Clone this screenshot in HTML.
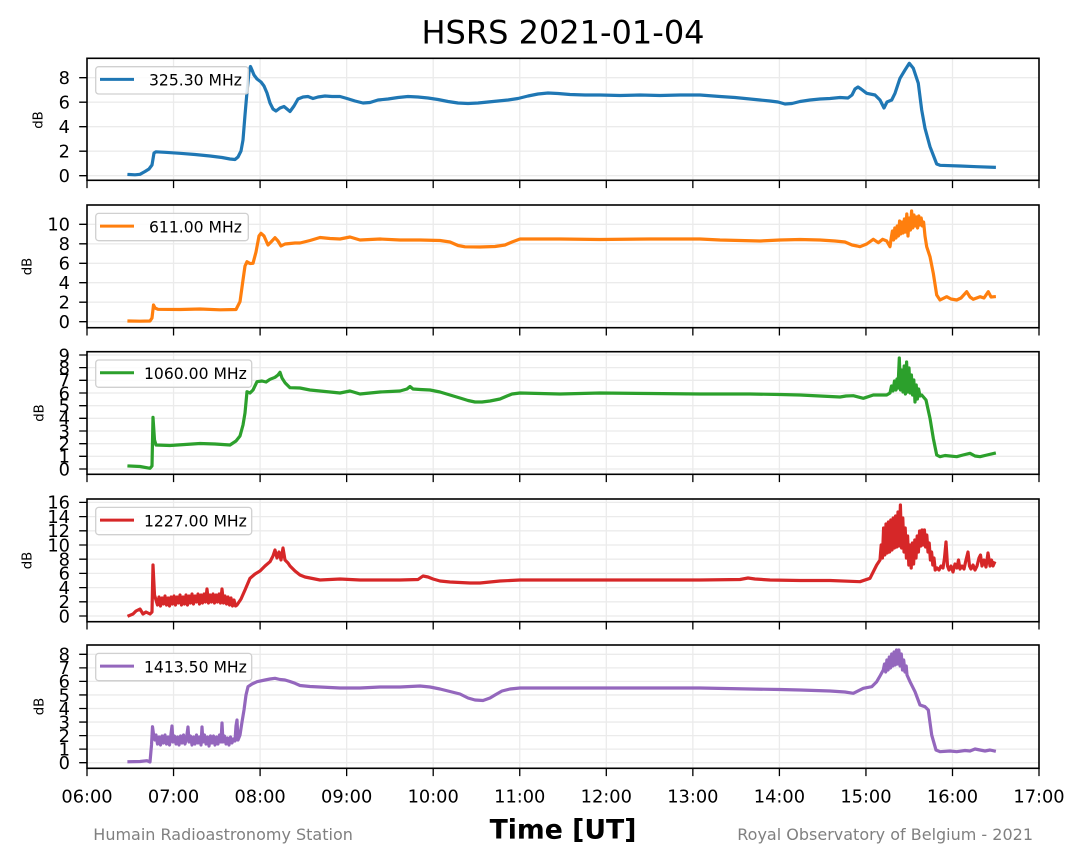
<!DOCTYPE html>
<html><head><meta charset="utf-8"><style>
html,body{margin:0;padding:0;background:#fff;}
svg{display:block;}
text{font-family:"DejaVu Sans","Liberation Sans",sans-serif;}
</style></head><body>
<svg width="1085" height="862" viewBox="0 0 1085 862" xmlns="http://www.w3.org/2000/svg">
<rect width="1085" height="862" fill="#fff"/>
<text x="563" y="43.3" font-size="32" text-anchor="middle" fill="#000">HSRS 2021-01-04</text>

<g stroke="#ebebeb" stroke-width="1.3" fill="none">
<path d="M173.55 58.3V180.3M260.1 58.3V180.3M346.65 58.3V180.3M433.2 58.3V180.3M519.75 58.3V180.3M606.3 58.3V180.3M692.85 58.3V180.3M779.4 58.3V180.3M865.95 58.3V180.3M952.5 58.3V180.3"/>
<path d="M173.55 205V327.7M260.1 205V327.7M346.65 205V327.7M433.2 205V327.7M519.75 205V327.7M606.3 205V327.7M692.85 205V327.7M779.4 205V327.7M865.95 205V327.7M952.5 205V327.7"/>
<path d="M173.55 351.7V474.3M260.1 351.7V474.3M346.65 351.7V474.3M433.2 351.7V474.3M519.75 351.7V474.3M606.3 351.7V474.3M692.85 351.7V474.3M779.4 351.7V474.3M865.95 351.7V474.3M952.5 351.7V474.3"/>
<path d="M173.55 499V621.7M260.1 499V621.7M346.65 499V621.7M433.2 499V621.7M519.75 499V621.7M606.3 499V621.7M692.85 499V621.7M779.4 499V621.7M865.95 499V621.7M952.5 499V621.7"/>
<path d="M173.55 645V768.3M260.1 645V768.3M346.65 645V768.3M433.2 645V768.3M519.75 645V768.3M606.3 645V768.3M692.85 645V768.3M779.4 645V768.3M865.95 645V768.3M952.5 645V768.3"/>
<path d="M87 175.7H1039M87 151.2H1039M87 126.7H1039M87 102.2H1039M87 77.7H1039"/>
<path d="M87 321.7H1039M87 302.2H1039M87 282.7H1039M87 263.3H1039M87 243.8H1039M87 224.3H1039"/>
<path d="M87 469H1039M87 456.3H1039M87 443.7H1039M87 431H1039M87 418.3H1039M87 405.7H1039M87 393H1039M87 380.3H1039M87 367.6H1039M87 355H1039"/>
<path d="M87 616H1039M87 601.8H1039M87 587.6H1039M87 573.4H1039M87 559.2H1039M87 545H1039M87 530.8H1039M87 516.6H1039M87 502.4H1039"/>
<path d="M87 762.7H1039M87 749.15H1039M87 735.6H1039M87 722.05H1039M87 708.5H1039M87 694.95H1039M87 681.4H1039M87 667.85H1039M87 654.3H1039"/>
</g>

<g fill="none" stroke-width="3.2" stroke-linejoin="round" stroke-linecap="square">
<polyline stroke="#1f77b4" points="129,174.5 135,174.8 140,174.3 145,171.5 149,169 152,165 154,153 156,151.8 165,152.3 180,153.3 195,154.5 210,156 222,157.5 230,159 235,159.5 238,157 241,151 243,140 245,115 247,92 249,72 250.5,66.5 252,70 254,75 257,79 261,82 264,86 267,93 270,103 273,109 276,111 280,108 284,106.5 287,109 290,111.5 294,106 298,99 303,97 308,96.5 313,98.5 318,97 325,96 332,96.5 340,96.5 347,98.5 355,101 363,103 370,102.5 378,100 388,99 398,97.5 408,96.5 418,97 428,98 438,99.5 448,101.5 458,103 468,103.5 478,103 488,102 498,101 508,100 518,98.5 528,96 538,94 548,93 558,93.5 570,94.5 585,95 600,95 620,95.5 640,95 660,95.5 680,95 700,95 720,96.5 735,97.5 750,99 760,100 770,101 778,102 785,104 792,103.5 800,101.5 810,100 820,99 830,98.5 840,97.5 848,98 852,95 855,89 858,87 861,89 866.7,93.3 875,95 880,100 884,108 887,102 891.7,100 895,93.3 900,78.3 905,70 909.3,63.3 913.3,68.3 918.3,83.3 921.7,110 925,128.3 930,146.7 936.7,164 940,165.3 960,166 976.7,166.7 994.3,167.3"/>
<polyline stroke="#ff7f0e" points="129,321 140,321.2 150,321 152,318 153.5,305 155,308 158,309.3 180,309.5 200,309 220,309.8 236,309.5 240,301.7 243,280 245,266 247,261.7 250,263.5 253,263.3 256,252 259,236 261,233.3 264,236 268,245 271,242 275,237.7 278,241 281,246 285,244 290,243.5 295,243 300,243 310,240.5 320,237.5 330,238.5 340,239 350,237 360,240 370,239.5 380,239 400,240 420,240 440,240.5 450,242 458,245.5 465,246.8 480,247 495,246.5 505,245 512,242 520,239 540,239 560,239 600,239.5 650,239 700,239 720,240 740,240.5 760,241 780,240 800,239.5 820,240 835,241 845,242 852,245 857,246 860,246.7 866.7,244 873.3,239.3 878.3,242.7 882.7,239.3 886.7,241 890,246.7 891.2,238 892.4,231 893.6,240 894.8,228 896,238 897.2,226 898.4,236 899.6,221 900.8,234 902,222 903.2,233 904.4,219 905.6,232 906.8,214 908,236 909.2,218 910.4,230 911.6,211 912.8,228 914,215 915.2,226 916.4,217 917.6,228 918.8,216 920,225 921.2,218 922.4,226 923.6,222 925,236 926.7,246.7 930,256.7 933.3,273.3 936.7,295 940,300 946.7,296.7 951,299 956.7,300 961,298 966.7,291.7 970,297 973.3,299.3 980,296.7 984,298 988.3,291.7 991,297 994.3,296.7"/>
<polyline stroke="#2ca02c" points="129,466 140,466.5 150,468.3 152,466 153,417.3 154.5,440 156,445 170,445.5 185,444.5 200,443.5 215,444 230,445 236,441 240,436 243,425 245,413 247,391.7 250,393 253,390 257,381.7 262,381 266,382 270,379.3 275,377.3 278,375 280,372.3 282,378 285,382.7 290,387.7 300,388 310,390 320,391 330,392 340,393 350,391 360,394 370,393 380,392 390,391.5 400,391 407,389 410,386.5 413,389 420,389.5 430,390 440,392 450,395 460,398 468,400.5 475,402 482,402 490,401 500,399 507,396 512,394 520,393 540,393.5 560,394 580,393.5 600,393 650,393.5 700,394 750,394 780,394.5 800,395 820,396 840,397 846,396 853.3,395.7 863.3,398.3 873.3,395 886.7,395 890,393 891.5,386 893,391 894.5,381 896,390 897,379 898,388 899.3,358 900.5,390 901.7,370 903,392 904.2,366 905.4,394 906.6,362 907.8,392 909,368 910.2,393 911.4,375 912.6,395 913.8,380 915,402 916.2,385 917.4,399 918.6,389 920,396 921.7,395 926,400 930,418.3 933.3,438.3 936.7,455 940,456.7 945,455.5 956.7,456.7 963,455 970,453.3 975,456 980,456.7 987,455 994.3,453.3"/>
<polyline stroke="#d62728" points="129,615.7 133,614 136,611 140,609 143,614 146,612 150,614 152,612 153,565 154.5,595 156,600 157.5,605 159,597 160.5,606 162,598 163.5,604 165,596 166.5,605 168,598 169.5,606 171,597 172.5,604 174,596 175.5,605 177,597 178.5,603 180,595 181.5,605 183,597 184.5,604 186,595 187.5,605 189,596 190.5,603 192,594 193.5,604 195,596 196.5,602 198,594 199.5,604 201,595 202.5,603 204,594 205.5,602 207,589 208.5,603 210,595 211.5,602 213,594 214.5,603 216,595 217.5,602 219,594 220.5,603 222,589 223.5,603 225,596 226.5,604 228,597 229.5,605 231,598 232.5,606 234,600 235.5,606 237,605 241,599 245,590 250,578.3 255,574 260,571 265,566 270,561.7 273,556 275,550 277,558 279,552 281,560 283,548 285,560 288,563 290,566 295,571 300,575 305,577 310,578 320,580 340,579 360,580 380,580 400,580 418,579.5 423,576 428,577 433,579 440,581 450,582 460,582.5 470,583 480,583 490,582 500,581 510,580.5 520,580 550,580 600,580 650,580 700,580 740,579.5 748,578 755,579 770,580 800,580.5 830,580.5 860,581.7 870,578.3 876.7,565 880,560 881.2,545 882.4,558 883.6,528 884.8,555 886,524 887.2,553 888.4,522 889.6,552 890.8,520 892,550 893.2,518 894.4,548 895.6,516 896.8,547 898,512 899.2,546 900.4,505 901.6,548 902.8,518 904,552 905.2,528 906.4,558 907.6,536 908.8,565 910,545 911.2,568 912.4,543 913.6,564 914.8,540 916,558 917.2,536 918.4,552 919.6,531 920.8,546 922,530 923.2,545 924.4,530 925.6,547 926.8,535 928,552 929.2,543 930.4,560 931.6,552 932.8,565 934,558 935.2,570 937,568 939,570 941,566 943,568 944.5,558 946,542 947.5,566 949,570 951,566 953,572 955,564 957,568 958.5,560 960,569 962,566 964,569 966,560 968,552 969.5,566 971,569 973,565 975,570 977,566 979,558 980.5,555 982,566 984,560 986,567 988,553 990,566 991.5,560 993,566 994.3,563"/>
<polyline stroke="#9467bd" points="129,761.7 140,761.5 147,760.7 150,762 151.5,745 152.5,726.7 154,738 155,740 156,735 157.5,744 159,737 160.5,745 162,736 163.5,743 165,735 166.5,744 168,737 169.5,745 171,734 172,726 173,742 174.5,736 176,744 177.5,737 179,745 180.5,736 182,743 183.5,735 185,744 186.5,738 188,727 189,742 190.5,736 192,745 193.5,737 195,744 196.5,735 198,743 199.5,737 201,745 202,727 203,742 204.5,735 206,744 207.5,737 209,746 210.5,736 212,743 213.5,736 215,745 216.5,737 218,744 219.5,735 221,742 222,723 223,742 224.5,736 226,744 227.5,738 229,745 230.5,737 232,743 233.5,739 235,741 236,726 237,720 238,740 240,735 242,722 244,710 246,695 248,686.7 252,684 257,681.7 265,680 270,679 275,678.3 280,679.5 285,680 290,681.5 295,683.3 300,685.5 310,686.5 320,687 330,687.5 340,688 350,688 360,688 370,687.5 380,687 390,687 400,687 410,686.5 420,686 430,687 440,689 450,691.5 460,694 468,698 475,700 483,700.5 490,698 495,695 502,691 510,689 520,688 540,688 560,688 600,688 650,688 700,688 750,689 780,689.5 800,690 830,691 845,692 853.3,693.3 863.3,688.3 871.7,686.7 876.7,681.7 880,676 883.3,670 884.5,664 885.7,672 886.9,660 888.1,670 889.3,657 890.5,668 891.7,654 892.9,666 894.1,652 895.3,665 896.5,650 897.7,664 898.9,650 900.1,666 901.3,654 902.5,670 903.7,660 905,672 906.2,666 907,675 910,681.7 915,691.7 920,705 925,706.7 928.3,710 931.7,735 936,750 940,751.7 950,751 956.7,751.7 965,750.5 970,751 975,749 980,750 985,751 990,750 994.3,751"/>
</g>

<g stroke="#d0d0d0" stroke-width="1.3" fill="#fff" fill-opacity="0.85">
<rect x="95.7" y="66.7" width="152.6" height="27.3" rx="3"/>
<rect x="95.7" y="213.4" width="152.6" height="27.3" rx="3"/>
<rect x="95.7" y="360" width="156" height="27.3" rx="3"/>
<rect x="95.7" y="507.4" width="156" height="27.3" rx="3"/>
<rect x="95.7" y="653.4" width="156" height="27.3" rx="3"/>
</g>
<g stroke-width="3" fill="none">
<path stroke="#1f77b4" d="M100 79.4H134"/>
<path stroke="#ff7f0e" d="M100 226.1H134"/>
<path stroke="#2ca02c" d="M100 372.7H134"/>
<path stroke="#d62728" d="M100 520.1H134"/>
<path stroke="#9467bd" d="M100 666.1H134"/>
</g>
<g font-size="15.6" fill="#000">
<text x="149" y="85.7">325.30 MHz</text>
<text x="149" y="232.4">611.00 MHz</text>
<text x="144" y="379">1060.00 MHz</text>
<text x="144" y="526.4">1227.00 MHz</text>
<text x="144" y="672.4">1413.50 MHz</text>
</g>

<g stroke="#000" stroke-width="1.6" fill="none">
<rect x="87" y="58.3" width="952" height="122"/>
<rect x="87" y="205" width="952" height="122.7"/>
<rect x="87" y="351.7" width="952" height="122.6"/>
<rect x="87" y="499" width="952" height="122.7"/>
<rect x="87" y="645" width="952" height="123.3"/>
</g>

<g stroke="#000" stroke-width="1.3">
<path d="M87 180.3v7.8M173.55 180.3v7.8M260.1 180.3v7.8M346.65 180.3v7.8M433.2 180.3v7.8M519.75 180.3v7.8M606.3 180.3v7.8M692.85 180.3v7.8M779.4 180.3v7.8M865.95 180.3v7.8M952.5 180.3v7.8M1039 180.3v7.8"/>
<path d="M87 327.7v7.8M173.55 327.7v7.8M260.1 327.7v7.8M346.65 327.7v7.8M433.2 327.7v7.8M519.75 327.7v7.8M606.3 327.7v7.8M692.85 327.7v7.8M779.4 327.7v7.8M865.95 327.7v7.8M952.5 327.7v7.8M1039 327.7v7.8"/>
<path d="M87 474.3v7.8M173.55 474.3v7.8M260.1 474.3v7.8M346.65 474.3v7.8M433.2 474.3v7.8M519.75 474.3v7.8M606.3 474.3v7.8M692.85 474.3v7.8M779.4 474.3v7.8M865.95 474.3v7.8M952.5 474.3v7.8M1039 474.3v7.8"/>
<path d="M87 621.7v7.8M173.55 621.7v7.8M260.1 621.7v7.8M346.65 621.7v7.8M433.2 621.7v7.8M519.75 621.7v7.8M606.3 621.7v7.8M692.85 621.7v7.8M779.4 621.7v7.8M865.95 621.7v7.8M952.5 621.7v7.8M1039 621.7v7.8"/>
<path d="M87 768.3v7.8M173.55 768.3v7.8M260.1 768.3v7.8M346.65 768.3v7.8M433.2 768.3v7.8M519.75 768.3v7.8M606.3 768.3v7.8M692.85 768.3v7.8M779.4 768.3v7.8M865.95 768.3v7.8M952.5 768.3v7.8M1039 768.3v7.8"/>
<path d="M79.2 175.7H87M79.2 151.2H87M79.2 126.7H87M79.2 102.2H87M79.2 77.7H87"/>
<path d="M79.2 321.7H87M79.2 302.2H87M79.2 282.7H87M79.2 263.3H87M79.2 243.8H87M79.2 224.3H87"/>
<path d="M79.2 469H87M79.2 456.3H87M79.2 443.7H87M79.2 431H87M79.2 418.3H87M79.2 405.7H87M79.2 393H87M79.2 380.3H87M79.2 367.6H87M79.2 355H87"/>
<path d="M79.2 616H87M79.2 601.8H87M79.2 587.6H87M79.2 573.4H87M79.2 559.2H87M79.2 545H87M79.2 530.8H87M79.2 516.6H87M79.2 502.4H87"/>
<path d="M79.2 762.7H87M79.2 749.15H87M79.2 735.6H87M79.2 722.05H87M79.2 708.5H87M79.2 694.95H87M79.2 681.4H87M79.2 667.85H87M79.2 654.3H87"/>
</g>

<g font-size="17.8" text-anchor="end" fill="#000">
<text x="70" y="182">0</text><text x="70" y="157.5">2</text><text x="70" y="133">4</text><text x="70" y="108.5">6</text><text x="70" y="84">8</text>
<text x="70" y="328">0</text><text x="70" y="308.5">2</text><text x="70" y="289">4</text><text x="70" y="269.6">6</text><text x="70" y="250.1">8</text><text x="70" y="230.6">10</text>
<text x="70" y="475.3">0</text><text x="70" y="462.6">1</text><text x="70" y="450">2</text><text x="70" y="437.3">3</text><text x="70" y="424.6">4</text><text x="70" y="412">5</text><text x="70" y="399.3">6</text><text x="70" y="386.6">7</text><text x="70" y="373.9">8</text><text x="70" y="361.3">9</text>
<text x="70" y="622.3">0</text><text x="70" y="608.1">2</text><text x="70" y="593.9">4</text><text x="70" y="579.7">6</text><text x="70" y="565.5">8</text><text x="70" y="551.3">10</text><text x="70" y="537.1">12</text><text x="70" y="522.9">14</text><text x="70" y="508.7">16</text>
<text x="70" y="769">0</text><text x="70" y="755.45">1</text><text x="70" y="741.9">2</text><text x="70" y="728.35">3</text><text x="70" y="714.8">4</text><text x="70" y="701.25">5</text><text x="70" y="687.7">6</text><text x="70" y="674.15">7</text><text x="70" y="660.6">8</text>
</g>

<g font-size="13.3" text-anchor="middle" fill="#000">
<text transform="translate(42.7,120) rotate(-90)">dB</text>
<text transform="translate(31.7,266.5) rotate(-90)">dB</text>
<text transform="translate(43.3,413) rotate(-90)">dB</text>
<text transform="translate(31.7,560.5) rotate(-90)">dB</text>
<text transform="translate(43.3,706.5) rotate(-90)">dB</text>
</g>

<g font-size="17.8" text-anchor="middle" fill="#000">
<text x="87" y="802.3">06:00</text>
<text x="173.55" y="802.3">07:00</text>
<text x="260.1" y="802.3">08:00</text>
<text x="346.65" y="802.3">09:00</text>
<text x="433.2" y="802.3">10:00</text>
<text x="519.75" y="802.3">11:00</text>
<text x="606.3" y="802.3">12:00</text>
<text x="692.85" y="802.3">13:00</text>
<text x="779.4" y="802.3">14:00</text>
<text x="865.95" y="802.3">15:00</text>
<text x="952.5" y="802.3">16:00</text>
<text x="1039" y="802.3">17:00</text>
</g>

<text x="563" y="838.3" font-size="26.7" font-weight="bold" text-anchor="middle" fill="#000">Time [UT]</text>
<text x="93.3" y="840" font-size="16" fill="#808080">Humain Radioastronomy Station</text>
<text x="1033" y="840" font-size="16" fill="#808080" text-anchor="end">Royal Observatory of Belgium - 2021</text>
</svg>
</body></html>
